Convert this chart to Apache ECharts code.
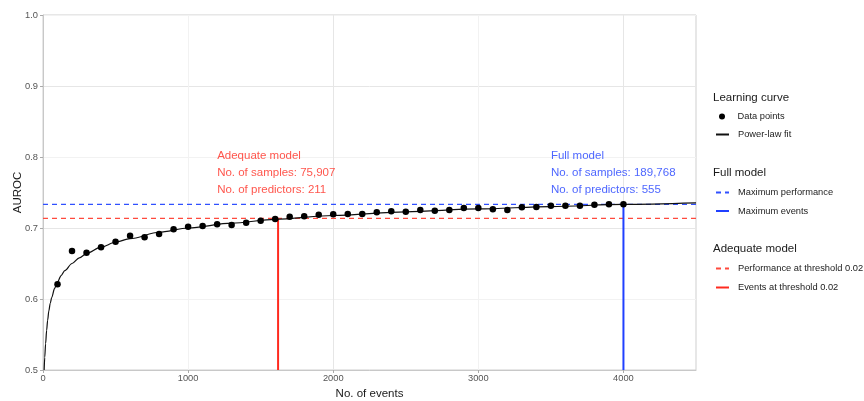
<!DOCTYPE html>
<html>
<head>
<meta charset="utf-8">
<script src="https://cdn.jsdelivr.net/npm/echarts@6/dist/echarts.min.js"></script>
<style>html,body{margin:0;padding:0;background:#fff}#c{width:864px;height:401px}</style>
</head>
<body>
<div id="c"></div>
<script>
// ---- data ----
const eventCounts = [100,200,300,400,500,600,700,800,900,1000,1100,1200,1300,1400,1500,1600,1700,1800,1900,2000,2100,2200,2300,2400,2500,2600,2700,2800,2900,3000,3100,3200,3300,3400,3500,3600,3700,3800,3900,4000];
const aurocPoints = [0.6207,0.6676,0.6653,0.6728,0.6807,0.6892,0.6869,0.6915,0.6981,0.7019,0.7028,0.7052,0.7042,0.7075,0.7103,0.7127,0.7160,0.7164,0.7188,0.7193,0.7197,0.7197,0.7221,0.7235,0.7230,0.7254,0.7244,0.7254,0.7282,0.7282,0.7263,0.7254,0.7291,0.7296,0.7315,0.7315,0.7315,0.7329,0.7333,0.7333];
const fitEvents = [8,12,18,25,32,40,50,60,80,100,125,150,200,250,300,400,500,600,800,1000,1300,1600,2000,2500,3000,3500,4000,4500];
const fitAuroc  = [0.500,0.518,0.537,0.556,0.570,0.583,0.594,0.602,0.615,0.624,0.633,0.640,0.650,0.658,0.664,0.673,0.680,0.685,0.694,0.700,0.7068,0.7122,0.7176,0.7228,0.7268,0.7302,0.7332,0.7354];
const maxPerformance = 0.7334;
const maxEvents = 4000;
const thresholdPerformance = 0.7135;
const thresholdEvents = 1620;
const adequateText = ['Adequate model','No. of samples: 75,907','No. of predictors: 211'];
const adequateTextY = [0.8015,0.7779,0.7542];
const adequateTextX = 1200;
const fullText = ['Full model','No. of samples: 189,768','No. of predictors: 555'];
const fullTextY = [0.8015,0.7779,0.7542];
const fullTextX = 3500;
const xLabelValues = [0,1000,2000,3000,4000];
const yLabelValues = [0.5,0.6,0.7,0.8,0.9,1.0];
const xMin = 0, xMax = 4500, yMin = 0.5, yMax = 1.0;

const RED = '#ff2a1f', RED_D = '#ff4a3d', BLUE = '#2040ff', BLUE_D = '#3050ff';
const FONT = 'Liberation Sans';

const chart = echarts.init(document.getElementById('c'));

function textSeries(lines, ys, x, color) {
  return {
    type: 'scatter', silent: true, symbolSize: 0, z: 5,
    data: lines.map((t, i) => [x, ys[i], t]),
    label: {
      show: true, position: [0, 0], align: 'left', verticalAlign: 'middle',
      formatter: p => p.value[2], color: color, fontSize: 11.5, fontFamily: FONT
    }
  };
}

function legendItem(name, left, top, itemHeight, isLine) {
  const l = {
    data: [name], left: left, top: top, padding: 0,
    itemWidth: 13, itemHeight: itemHeight, selectedMode: false,
    textStyle: { fontSize: 9.3, fontFamily: FONT, color: '#222', padding: [0,0,0,4] }
  };
  if (isLine) l.itemStyle = { opacity: 0 };
  return l;
}

const option = {
  animation: false,
  backgroundColor: '#fff',
  textStyle: { fontFamily: FONT },
  grid: { left: 43, right: 168, top: 15, bottom: 31, containLabel: false, outerBoundsMode: 'none',
          show: true, borderColor: '#cfcfcf', borderWidth: 1 },
  xAxis: {
    type: 'value', min: xMin, max: xMax, interval: 500,
    name: 'No. of events', nameLocation: 'middle', nameGap: 14,
    nameTextStyle: { fontSize: 11.5, color: '#1a1a1a', fontFamily: FONT },
    axisLine: { show: true, lineStyle: { color: '#c8c8c8' } },
    axisTick: { show: true, length: 3, customValues: xLabelValues, lineStyle: { color: '#aaa' } },
    axisLabel: { customValues: xLabelValues, formatter: v => String(v), fontSize: 9.3, color: '#555', margin: 4, fontFamily: FONT },
    splitLine: { show: true, lineStyle: { color: ['#e6e6e6', '#f2f2f2'], width: 1 } }
  },
  yAxis: {
    type: 'value', min: yMin, max: yMax, interval: 0.05,
    name: 'AUROC', nameLocation: 'middle', nameGap: 19, nameRotate: 90, nameMoveOverlap: false,
    nameTextStyle: { fontSize: 11.5, color: '#1a1a1a', fontFamily: FONT },
    axisLine: { show: true, lineStyle: { color: '#c8c8c8' } },
    axisTick: { show: true, length: 3, customValues: yLabelValues, lineStyle: { color: '#aaa' } },
    axisLabel: { customValues: yLabelValues, formatter: v => v.toFixed(1), fontSize: 9.3, color: '#555', margin: 5, fontFamily: FONT },
    splitLine: { show: true, lineStyle: { color: ['#e6e6e6', '#f2f2f2'], width: 1 } }
  },
  legend: [
    legendItem('Data points', 719, 112, 6, false),
    legendItem('Power-law fit', 715, 130, 10, true),
    legendItem('Maximum performance', 715, 188, 10, true),
    legendItem('Maximum events', 715, 206.5, 10, true),
    legendItem('Performance at threshold 0.02', 715, 264, 10, true),
    legendItem('Events at threshold 0.02', 715, 283, 10, true)
  ],
  graphic: [
    { type: 'text', left: 713, top: 92, style: { text: 'Learning curve', fontSize: 11.5, fontFamily: FONT, fill: '#1a1a1a' } },
    { type: 'text', left: 713, top: 167, style: { text: 'Full model', fontSize: 11.5, fontFamily: FONT, fill: '#1a1a1a' } },
    { type: 'text', left: 713, top: 243, style: { text: 'Adequate model', fontSize: 11.5, fontFamily: FONT, fill: '#1a1a1a' } }
  ],
  series: [
    {
      name: 'Maximum performance', type: 'line', symbol: 'none', z: 2,
      data: [[xMin, maxPerformance], [xMax, maxPerformance]],
      lineStyle: { color: BLUE_D, width: 1.3, type: [5, 4] }, itemStyle: { color: BLUE_D }
    },
    {
      name: 'Performance at threshold 0.02', type: 'line', symbol: 'none', z: 2,
      data: [[xMin, thresholdPerformance], [xMax, thresholdPerformance]],
      lineStyle: { color: RED_D, width: 1.3, type: [5, 4] }, itemStyle: { color: RED_D }
    },
    {
      name: 'Maximum events', type: 'line', symbol: 'none', z: 3,
      data: [[maxEvents, yMin], [maxEvents, maxPerformance]],
      lineStyle: { color: BLUE, width: 2 }, itemStyle: { color: BLUE }
    },
    {
      name: 'Events at threshold 0.02', type: 'line', symbol: 'none', z: 3,
      data: [[thresholdEvents, yMin], [thresholdEvents, thresholdPerformance]],
      lineStyle: { color: RED, width: 2 }, itemStyle: { color: RED }
    },
    {
      name: 'Power-law fit', type: 'line', symbol: 'none', z: 4, smooth: 0.3, smoothMonotone: 'x',
      data: fitEvents.map((x, i) => [x, fitAuroc[i]]),
      lineStyle: { color: '#111', width: 1.2 }, itemStyle: { color: '#111' }
    },
    {
      name: 'Data points', type: 'scatter', symbol: 'circle', symbolSize: 6.5, z: 5,
      data: eventCounts.map((x, i) => [x, aurocPoints[i]]),
      itemStyle: { color: '#000', opacity: 1 }
    },
    textSeries(adequateText, adequateTextY, adequateTextX, RED),
    textSeries(fullText, fullTextY, fullTextX, BLUE)
  ]
};
chart.setOption(option);
</script>
</body>
</html>
